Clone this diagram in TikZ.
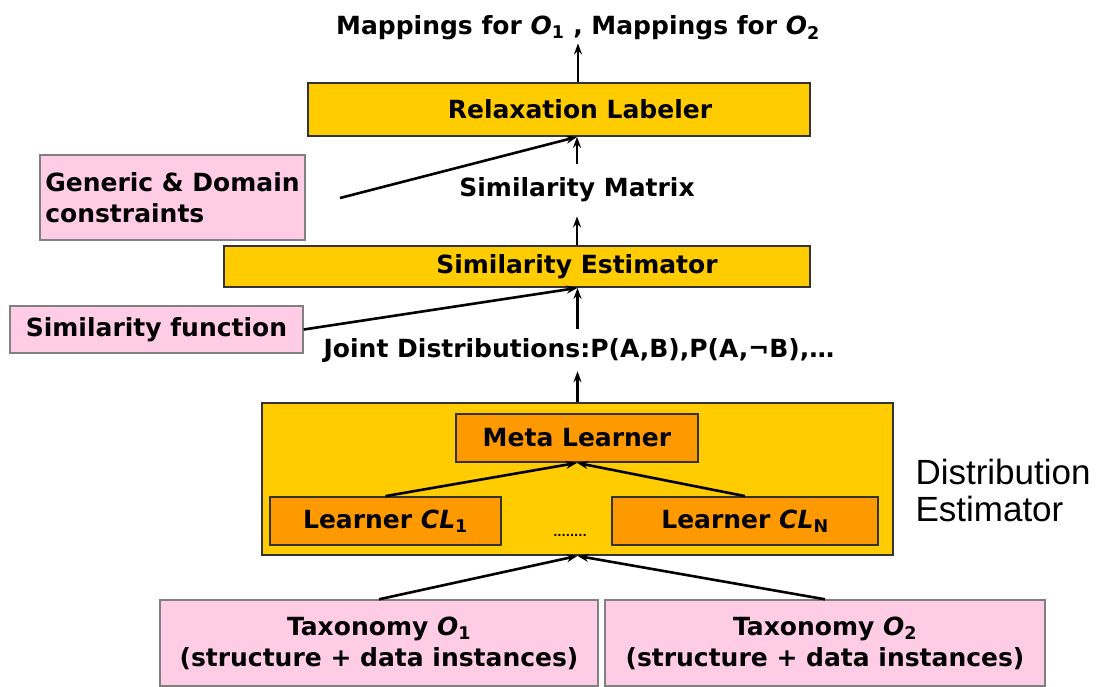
\documentclass[tikz,border=0pt]{standalone}
\usepackage{fontspec}
\setmainfont{DejaVu Sans}
\newfontfamily\thinfont{Liberation Sans}
\usetikzlibrary{arrows.meta}
\definecolor{goldcol}{HTML}{FFCC00}
\definecolor{orangecol}{HTML}{FF9900}
\definecolor{pinkcol}{HTML}{FFCCE5}
\definecolor{edgecol}{HTML}{333333}
\definecolor{pinkedge}{HTML}{808080}
\newcommand{\bigbf}{\fontsize{25}{31}\selectfont\bfseries}
\newcommand{\itO}{\textit{O}}
\newcommand{\itCL}{\textit{CL}}

\begin{document}
\begin{tikzpicture}[x=1pt,y=-1pt,
	ybox/.style={draw=edgecol,line width=1.8pt,fill=goldcol,inner sep=0pt,font=\bigbf},
	obox/.style={draw=edgecol,line width=1.8pt,fill=orangecol,inner sep=0pt,font=\bigbf},
	pbox/.style={draw=pinkedge,line width=1.4pt,fill=pinkcol,inner sep=0pt,font=\bigbf},
	txt/.style={font=\bigbf,inner sep=3pt},
	flow/.style={-{Stealth[length=11pt,width=8pt]},line width=2.6pt}]
\useasboundingbox (0,0) rectangle (1104,686);

% top part
\node[txt] (out) at (578,28) {Mappings for \itO\textsubscript{1} , Mappings for \itO\textsubscript{2}};
\node[ybox,minimum width=502pt,minimum height=53pt] (relax) at (559,109.5) {\hspace*{42pt}Relaxation Labeler};
\node[pbox,minimum width=265pt,minimum height=85pt,align=left] (generic) at (172.5,197.5) {Generic \& Domain\\constraints};
\coordinate (genend) at (340,198);
\node[txt,inner ysep=14pt] (simmat) at (577,190) {Similarity Matrix};
\node[ybox,minimum width=586pt,minimum height=41pt] (simest) at (517,266.5) {\hspace*{120pt}Similarity Estimator};
\node[pbox,minimum width=293pt,minimum height=47pt] (simfun) at (156.5,329.5) {Similarity function};
\node[txt,inner ysep=9pt] (joint) at (579,350) {Joint Distributions:P(A,B),P(A,¬B),…};

% distribution estimator
\node[ybox,minimum width=631pt,minimum height=152pt] (distest) at (577.5,479) {};
\node[obox,minimum width=242pt,minimum height=48pt] (meta) at (577,438) {Meta Learner};
\node[obox,minimum width=231pt,minimum height=48pt] (cl1) at (385.5,521) {Learner \itCL\textsubscript{1}};
\node[obox,minimum width=266pt,minimum height=48pt] (cln) at (745,521) {Learner \itCL\textsubscript{N}};
\node[font=\fontsize{11}{12}\selectfont\bfseries,inner sep=0pt] (dots) at (570,535) {........};
\node[font=\thinfont\fontsize{35}{37}\selectfont,align=left,anchor=west] (distlbl) at (912,490) {Distribution\\Estimator};

% taxonomies
\node[pbox,minimum width=438pt,minimum height=86pt,align=center] (tax1) at (379,643) {Taxonomy \itO\textsubscript{1}\\(structure + data instances)};
\node[pbox,minimum width=440pt,minimum height=86pt,align=center] (tax2) at (825,643) {Taxonomy \itO\textsubscript{2}\\(structure + data instances)};

% arrows
\draw[flow] (relax.north -| out) -- (out.south);
\draw[flow] (simmat.north) -- (relax.south -| simmat);
\draw[flow] (genend) -- (relax.south -| simmat);
\draw[flow] (simest.north -| simmat) -- (simmat.south);
\draw[flow] (joint.north -| distest) -- (simest.south -| distest);
\draw[flow] (simfun.east) -- (simest.south -| distest);
\draw[flow] (distest.north) -- (joint.south -| distest);
\draw[flow] (cl1.north) -- (meta.south);
\draw[flow] (cln.north) -- (meta.south);
\draw[flow] (tax1.north) -- (distest.south);
\draw[flow] (tax2.north) -- (distest.south);
\end{tikzpicture}
\end{document}
